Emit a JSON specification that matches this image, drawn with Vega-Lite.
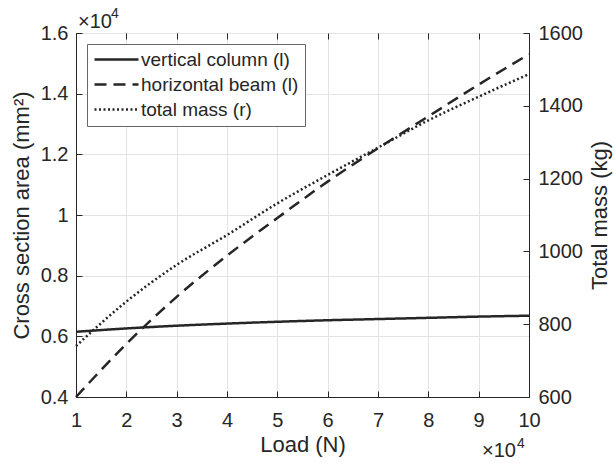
{
  "$schema": "https://vega.github.io/schema/vega-lite/v6.json",
  "width": 453,
  "height": 364,
  "autosize": {"type": "none"},
  "padding": {"left": 76, "top": 33, "right": 85, "bottom": 66},
  "config": {
    "font": "Liberation Sans",
    "view": {"stroke": "#262626", "strokeWidth": 1},
    "axis": {
      "labelFont": "Liberation Sans",
      "titleFont": "Liberation Sans",
      "labelFontSize": 20,
      "titleFontSize": 22,
      "labelColor": "#262626",
      "titleColor": "#262626",
      "titleFontWeight": "normal",
      "domainColor": "#262626",
      "tickColor": "#262626",
      "gridColor": "#e3e3e3",
      "tickSize": -6,
      "domainWidth": 1,
      "labelFlush": false,
      "labelOverlap": false
    },
    "legend": {
      "labelFont": "Liberation Sans",
      "labelFontSize": 19,
      "labelColor": "#262626"
    }
  },
  "datasets": {
    "left": [
      {"load": 10000, "area": 6150, "series": "vertical column (l)"},
      {"load": 20000, "area": 6260, "series": "vertical column (l)"},
      {"load": 30000, "area": 6350, "series": "vertical column (l)"},
      {"load": 40000, "area": 6420, "series": "vertical column (l)"},
      {"load": 50000, "area": 6480, "series": "vertical column (l)"},
      {"load": 60000, "area": 6530, "series": "vertical column (l)"},
      {"load": 70000, "area": 6570, "series": "vertical column (l)"},
      {"load": 80000, "area": 6610, "series": "vertical column (l)"},
      {"load": 90000, "area": 6650, "series": "vertical column (l)"},
      {"load": 100000, "area": 6680, "series": "vertical column (l)"},
      {"load": 10000, "area": 4000, "series": "horizontal beam (l)"},
      {"load": 20000, "area": 5750, "series": "horizontal beam (l)"},
      {"load": 30000, "area": 7300, "series": "horizontal beam (l)"},
      {"load": 40000, "area": 8660, "series": "horizontal beam (l)"},
      {"load": 50000, "area": 9900, "series": "horizontal beam (l)"},
      {"load": 60000, "area": 11100, "series": "horizontal beam (l)"},
      {"load": 70000, "area": 12200, "series": "horizontal beam (l)"},
      {"load": 80000, "area": 13250, "series": "horizontal beam (l)"},
      {"load": 90000, "area": 14300, "series": "horizontal beam (l)"},
      {"load": 100000, "area": 15300, "series": "horizontal beam (l)"}
    ],
    "right": [
      {"load": 10000, "mass": 740, "series": "total mass (r)"},
      {"load": 20000, "mass": 862, "series": "total mass (r)"},
      {"load": 30000, "mass": 963, "series": "total mass (r)"},
      {"load": 40000, "mass": 1045, "series": "total mass (r)"},
      {"load": 50000, "mass": 1132, "series": "total mass (r)"},
      {"load": 60000, "mass": 1210, "series": "total mass (r)"},
      {"load": 70000, "mass": 1285, "series": "total mass (r)"},
      {"load": 80000, "mass": 1360, "series": "total mass (r)"},
      {"load": 90000, "mass": 1425, "series": "total mass (r)"},
      {"load": 100000, "mass": 1487, "series": "total mass (r)"}
    ],
    "expTop": [{"load": 10000, "area": 16000, "base": "×10", "exp": "4"}],
    "expBottom": [{"load": 100000, "area": 4000, "base": "×10", "exp": "4"}]
  },
  "layer": [
    {
      "layer": [
        {
          "data": {"name": "left"},
          "mark": {"type": "line", "strokeWidth": 2.5, "color": "#262626", "interpolate": "monotone", "strokeCap": "butt"},
          "encoding": {
            "x": {
              "field": "load", "type": "quantitative",
              "scale": {"domain": [10000, 100000], "nice": false},
              "axis": {
                "values": [10000, 20000, 30000, 40000, 50000, 60000, 70000, 80000, 90000, 100000],
                "labelExpr": "format(datum.value/10000, '~g')",
                "title": "Load (N)",
                "grid": true,
                "labelPadding": 19,
                "titlePadding": 4
              }
            },
            "y": {
              "field": "area", "type": "quantitative",
              "scale": {"domain": [4000, 16000], "nice": false, "zero": false},
              "axis": {
                "values": [4000, 6000, 8000, 10000, 12000, 14000, 16000],
                "labelExpr": "format(datum.value/10000, '~g')",
                "title": "Cross section area (mm²)",
                "grid": true,
                "labelPadding": 14,
                "titlePadding": 7
              }
            },
            "strokeDash": {
              "field": "series", "type": "nominal",
              "scale": {
                "domain": ["vertical column (l)", "horizontal beam (l)", "total mass (r)"],
                "range": [[1, 0], [12, 7], [2, 2.5]]
              },
              "legend": {
                "title": null,
                "orient": "none",
                "legendX": 11,
                "legendY": 11,
                "symbolType": "M-4.4,0H4.4",
                "symbolSize": 100,
                "symbolStrokeWidth": 2.5,
                "symbolStrokeColor": "#262626",
                "symbolOffset": 14,
                "fillColor": "white",
                "strokeColor": "#666666",
                "padding": 6,
                "labelOffset": 15,
                "rowPadding": 5
              }
            }
          }
        },
        {
          "data": {"name": "expTop"},
          "mark": {"type": "text", "align": "left", "baseline": "alphabetic", "dx": 2, "dy": -5, "fontSize": 20, "color": "#262626", "font": "Liberation Sans"},
          "encoding": {"x": {"field": "load", "type": "quantitative"}, "y": {"field": "area", "type": "quantitative"}, "text": {"field": "base"}}
        },
        {
          "data": {"name": "expTop"},
          "mark": {"type": "text", "align": "left", "baseline": "alphabetic", "dx": 35, "dy": -15, "fontSize": 14, "color": "#262626", "font": "Liberation Sans"},
          "encoding": {"x": {"field": "load", "type": "quantitative"}, "y": {"field": "area", "type": "quantitative"}, "text": {"field": "exp"}}
        },
        {
          "data": {"name": "expBottom"},
          "mark": {"type": "text", "align": "left", "baseline": "alphabetic", "dx": -47, "dy": 60, "fontSize": 20, "color": "#262626", "font": "Liberation Sans"},
          "encoding": {"x": {"field": "load", "type": "quantitative"}, "y": {"field": "area", "type": "quantitative"}, "text": {"field": "base"}}
        },
        {
          "data": {"name": "expBottom"},
          "mark": {"type": "text", "align": "left", "baseline": "alphabetic", "dx": -12, "dy": 51, "fontSize": 14, "color": "#262626", "font": "Liberation Sans"},
          "encoding": {"x": {"field": "load", "type": "quantitative"}, "y": {"field": "area", "type": "quantitative"}, "text": {"field": "exp"}}
        }
      ]
    },
    {
      "data": {"name": "right"},
      "mark": {"type": "line", "strokeWidth": 2.5, "color": "#262626", "interpolate": "monotone", "strokeCap": "butt"},
      "encoding": {
        "x": {
          "field": "load", "type": "quantitative",
          "scale": {"domain": [10000, 100000], "nice": false},
          "axis": {
            "orient": "top",
            "values": [10000, 20000, 30000, 40000, 50000, 60000, 70000, 80000, 90000, 100000],
            "labels": false,
            "domain": false,
            "grid": false,
            "title": null
          }
        },
        "y": {
          "field": "mass", "type": "quantitative",
          "scale": {"domain": [600, 1600], "nice": false, "zero": false},
          "axis": {
            "orient": "right",
            "values": [600, 800, 1000, 1200, 1400, 1600],
            "format": "d",
            "grid": false,
            "title": "Total mass (kg)",
            "titleAngle": 270,
            "titleBaseline": "top",
            "labelPadding": 15,
            "titlePadding": 7
          }
        },
        "strokeDash": {
          "field": "series", "type": "nominal",
          "scale": {
            "domain": ["vertical column (l)", "horizontal beam (l)", "total mass (r)"],
            "range": [[1, 0], [12, 7], [2, 2.5]]
          }
        }
      }
    }
  ],
  "resolve": {"scale": {"y": "independent"}, "axis": {"x": "independent"}}
}
